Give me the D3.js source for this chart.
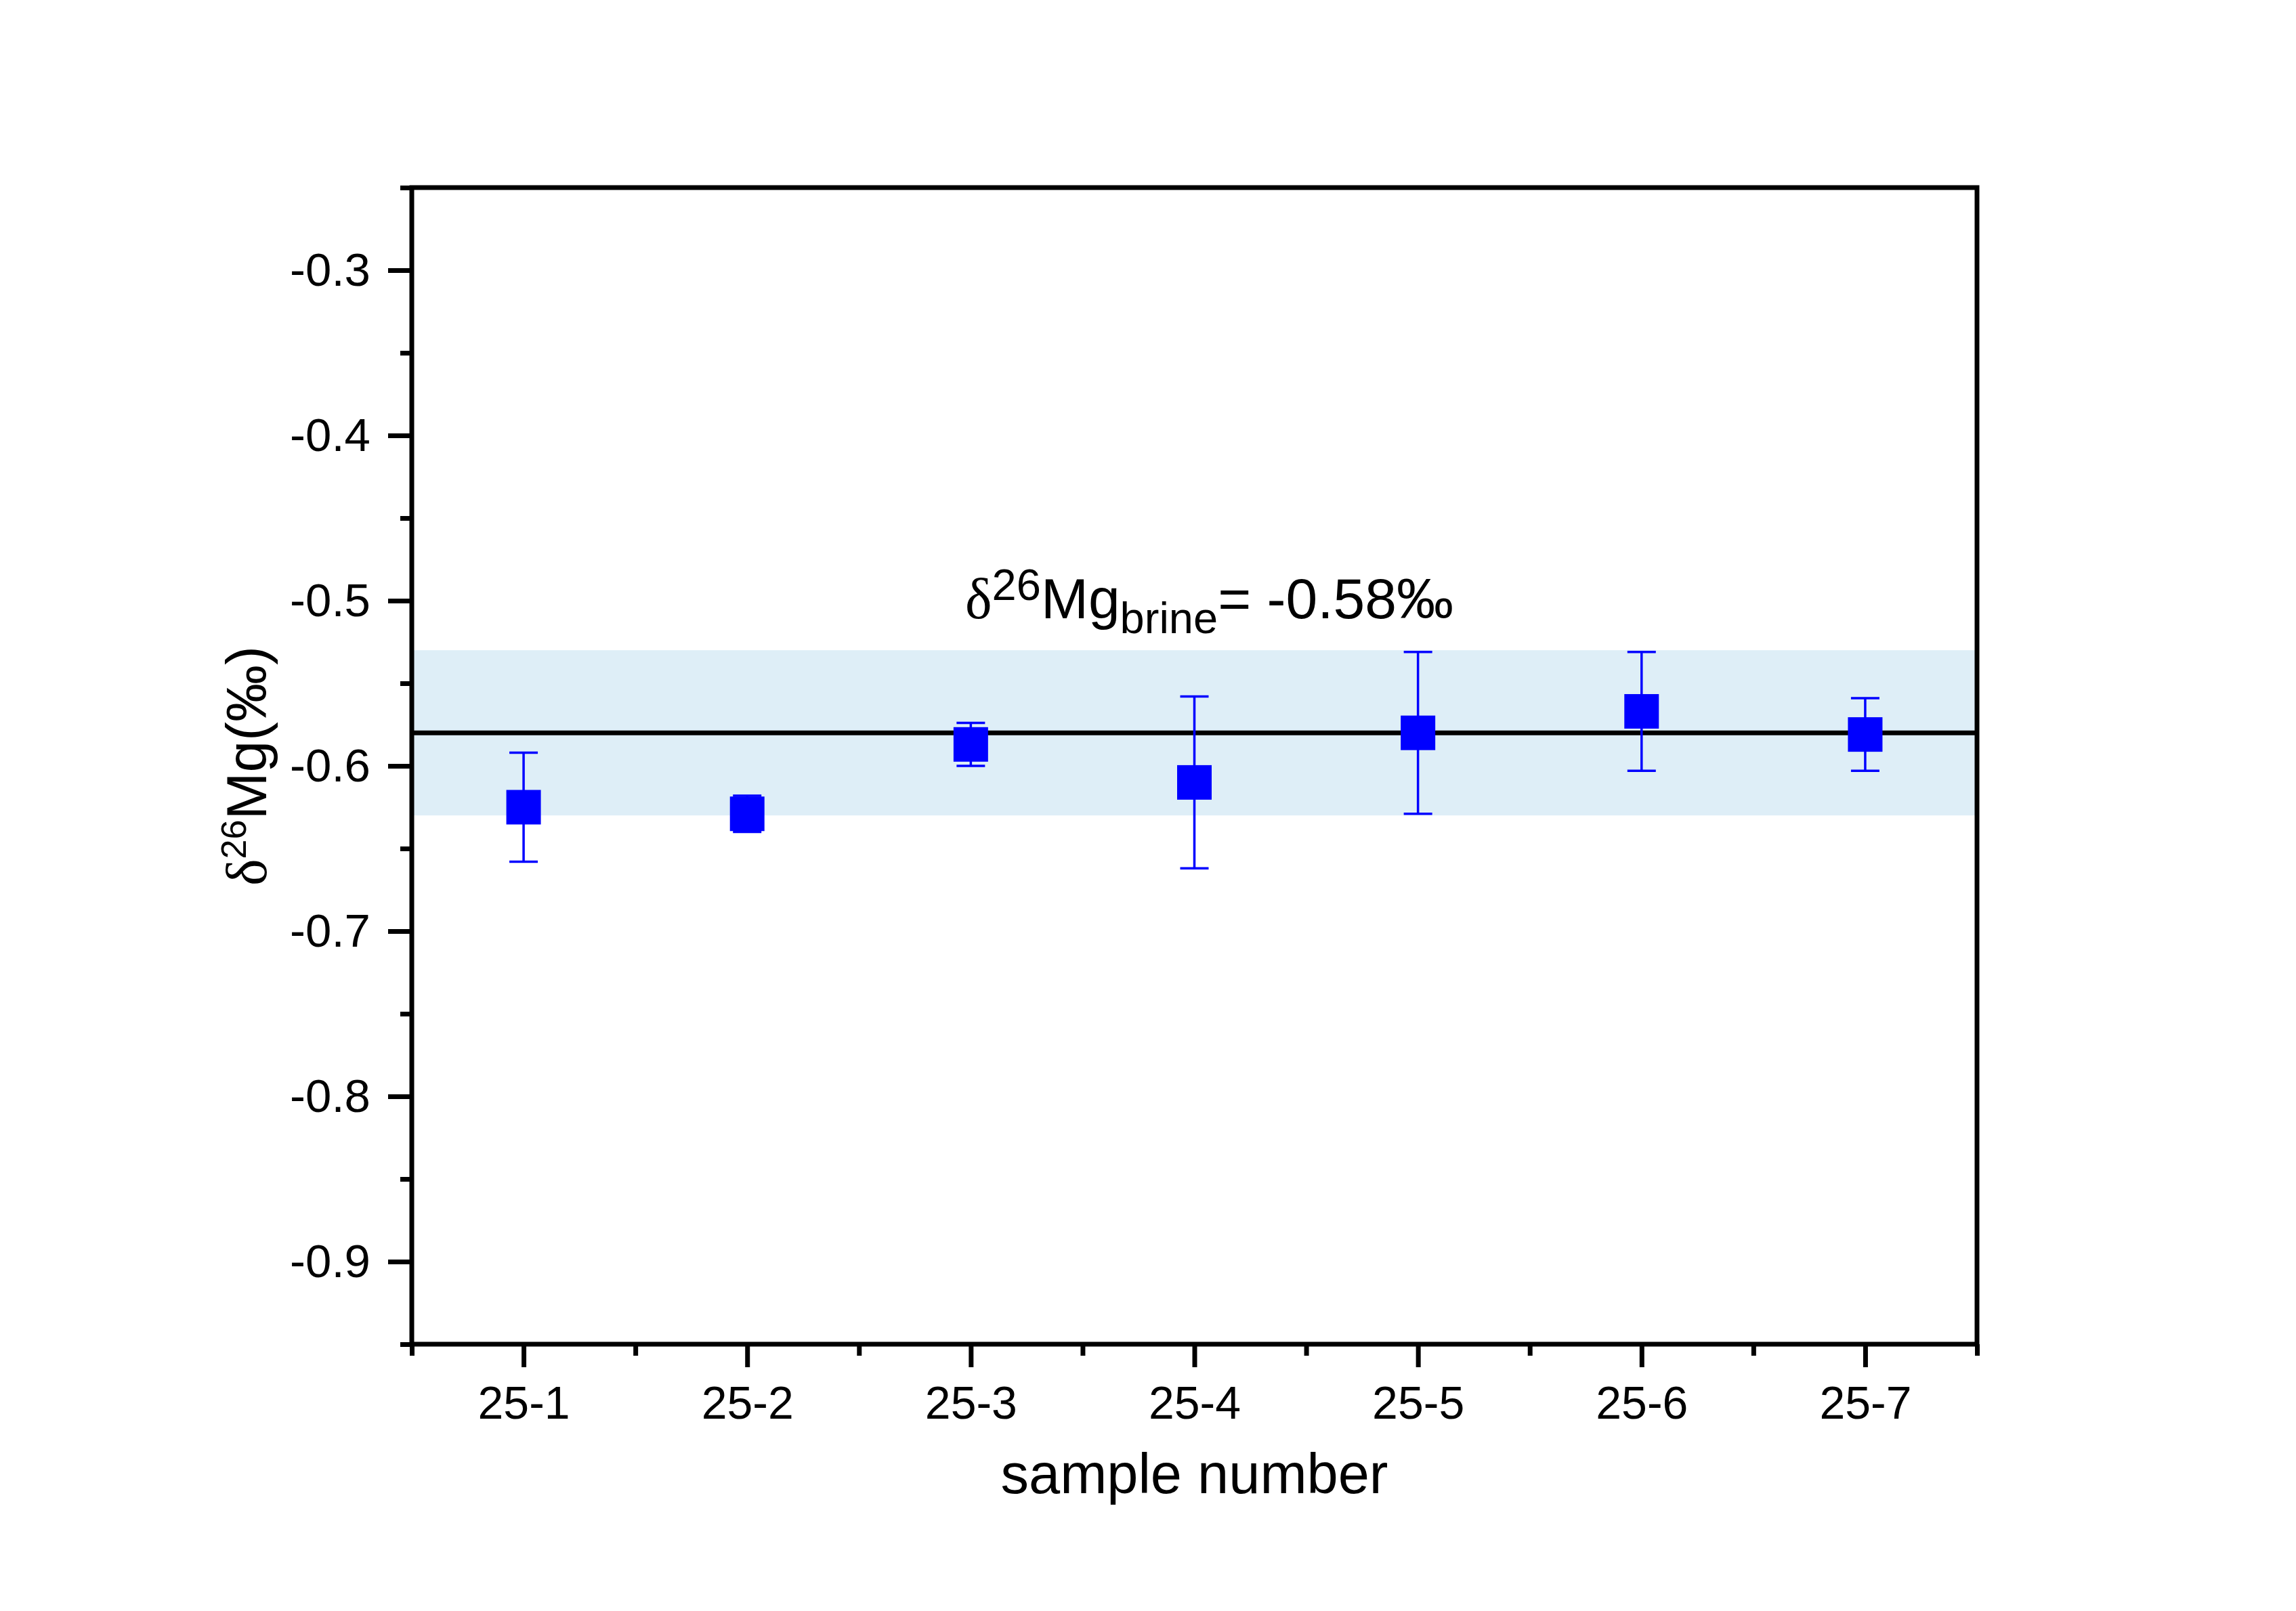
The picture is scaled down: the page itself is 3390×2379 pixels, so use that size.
<!DOCTYPE html>
<html>
<head>
<meta charset="utf-8">
<script src="https://cdn.jsdelivr.net/npm/d3@7"></script>
<style>
  html, body { margin: 0; padding: 0; background: #fff; }
  svg text { font-family: "Liberation Sans", Arial, sans-serif; fill: #000; }
</style>
</head>
<body>
<div id="chart"></div>
<script>
// sample data
const samples = ["25-1", "25-2", "25-3", "25-4", "25-5", "25-6", "25-7"];
const delta26Mg = [-0.625, -0.629, -0.587, -0.610, -0.580, -0.567, -0.581];
const errors = [0.033, 0.011, 0.013, 0.052, 0.049, 0.036, 0.022];

// brine mean and its band
const brineMean = -0.58;
const brineBand = [-0.63, -0.53];

const yTicks = [-0.9, -0.8, -0.7, -0.6, -0.5, -0.4, -0.3];
const yMinorTicks = [-0.95, -0.85, -0.75, -0.65, -0.55, -0.45, -0.35, -0.25];

const width = 3390, height = 2379;
const plot = { left: 608, right: 2919, top: 277, bottom: 1985 };

const svg = d3.select("#chart")
    .append("svg")
    .attr("width", width)
    .attr("height", height)
    .attr("viewBox", `0 0 ${width} ${height}`);

svg.append("rect").attr("width", width).attr("height", height).attr("fill", "#fff");

const x = d3.scaleLinear().domain([0.5, samples.length + 0.5]).range([plot.left, plot.right]);
const y = d3.scaleLinear().domain([-0.95, -0.25]).range([plot.bottom, plot.top]);

// shaded band
svg.append("rect")
    .attr("x", plot.left)
    .attr("width", plot.right - plot.left)
    .attr("y", y(brineBand[1]))
    .attr("height", y(brineBand[0]) - y(brineBand[1]))
    .attr("fill", "#deeef7");

// mean line
svg.append("line")
    .attr("x1", plot.left).attr("x2", plot.right)
    .attr("y1", y(brineMean)).attr("y2", y(brineMean))
    .attr("stroke", "#000")
    .attr("stroke-width", 7);

// error bars
const data = samples.map((s, i) => ({ s, i: i + 1, v: delta26Mg[i], e: errors[i] }));
const capW = 42;
const eb = svg.append("g").attr("stroke", "#0000ff").attr("stroke-width", 3.5);
data.forEach(d => {
    eb.append("line")
        .attr("x1", x(d.i)).attr("x2", x(d.i))
        .attr("y1", y(d.v + d.e)).attr("y2", y(d.v - d.e));
    [d.v + d.e, d.v - d.e].forEach(v => {
        eb.append("line")
            .attr("x1", x(d.i) - capW / 2).attr("x2", x(d.i) + capW / 2)
            .attr("y1", y(v)).attr("y2", y(v));
    });
});

// square markers
const ms = 51;
svg.append("g").selectAll("rect")
    .data(data)
    .join("rect")
    .attr("x", d => x(d.i) - ms / 2)
    .attr("y", d => y(d.v) - ms / 2)
    .attr("width", ms)
    .attr("height", ms)
    .attr("fill", "#0000ff");

// axes
function styleAxis(g) {
    g.select(".domain").remove();
    g.selectAll(".tick line").attr("stroke", "#000").attr("stroke-width", 7);
}

svg.append("g")
    .attr("transform", `translate(${plot.left},0)`)
    .call(d3.axisLeft(y).tickValues(yMinorTicks).tickSize(17).tickFormat(""))
    .call(styleAxis);

svg.append("g")
    .attr("transform", `translate(${plot.left},0)`)
    .call(d3.axisLeft(y).tickValues(yTicks).tickSize(35).tickPadding(26).tickFormat(d3.format(".1f")))
    .call(styleAxis)
    .call(g => g.selectAll(".tick text")
        .attr("font-size", 69)
        .attr("font-family", "Liberation Sans, Arial, sans-serif")
        .attr("fill", "#000")
        .text(d => d.toFixed(1)));

const xMinor = d3.range(0.5, samples.length + 1, 1);
svg.append("g")
    .attr("transform", `translate(0,${plot.bottom})`)
    .call(d3.axisBottom(x).tickValues(xMinor).tickSize(17).tickFormat(""))
    .call(styleAxis);

svg.append("g")
    .attr("transform", `translate(0,${plot.bottom})`)
    .call(d3.axisBottom(x).tickValues(d3.range(1, samples.length + 1)).tickSize(34)
        .tickPadding(28).tickFormat(d => samples[d - 1]))
    .call(styleAxis)
    .call(g => g.selectAll(".tick text")
        .attr("font-size", 68)
        .attr("font-family", "Liberation Sans, Arial, sans-serif")
        .attr("fill", "#000"));

// frame
svg.append("rect")
    .attr("x", plot.left).attr("y", plot.top)
    .attr("width", plot.right - plot.left)
    .attr("height", plot.bottom - plot.top)
    .attr("fill", "none")
    .attr("stroke", "#000")
    .attr("stroke-width", 7);

// x title
svg.append("text")
    .attr("x", (plot.left + plot.right) / 2)
    .attr("y", 2205)
    .attr("text-anchor", "middle")
    .attr("font-size", 83)
    .text("sample number");

// y title
const yTitle = svg.append("text")
    .attr("transform", `translate(393,${(plot.top + plot.bottom) / 2}) rotate(-90)`)
    .attr("text-anchor", "middle")
    .attr("font-size", 84);
yTitle.append("tspan").attr("font-family", "Liberation Serif, serif").text("δ");
yTitle.append("tspan").attr("font-size", 52).attr("dy", -30).text("26");
yTitle.append("tspan").attr("dy", 30).text("Mg(‰)");

// brine annotation
const ann = svg.append("text")
    .attr("x", 1425)
    .attr("y", 913)
    .attr("font-size", 84);
ann.append("tspan").attr("font-family", "Liberation Serif, serif").text("δ");
ann.append("tspan").attr("font-size", 65).attr("dy", -27).text("26");
ann.append("tspan").attr("dy", 27).text("Mg");
ann.append("tspan").attr("font-size", 65).attr("dy", 22).text("brine");
ann.append("tspan").attr("dy", -22).text("= " + brineMean.toFixed(2) + "‰");
</script>
</body>
</html>
